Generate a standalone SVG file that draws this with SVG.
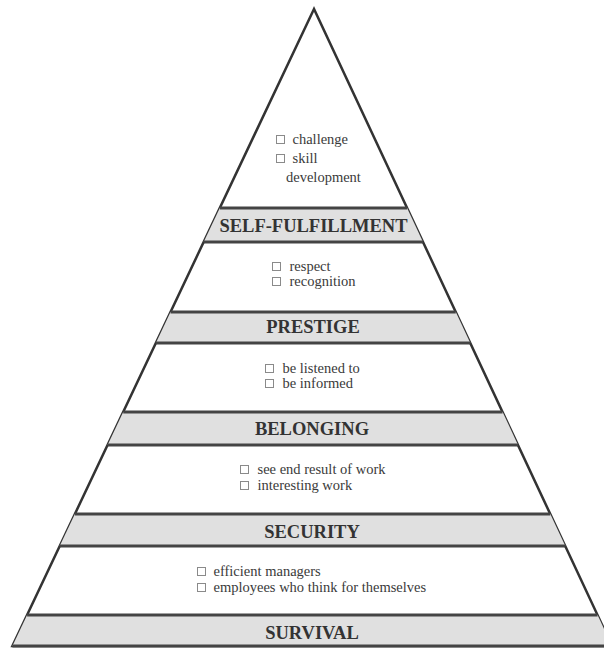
<svg xmlns="http://www.w3.org/2000/svg" width="604" height="648" viewBox="0 0 604 648">
<style>
.band{fill:#e0e0e0;stroke:none}
.bline{stroke:#444;stroke-width:3;fill:none}
.label{font-family:'Liberation Serif',serif;font-weight:bold;font-size:18.5px;fill:#333;text-anchor:middle}
.item{font-family:'Liberation Serif',serif;font-size:14.5px;fill:#3a3a3a}
.box{fill:none;stroke:#8a8a8a;stroke-width:1}
</style>
<rect width="604" height="648" fill="#fff"/>
<g id="outline">
<polygon points="314,9 12.4,646 612,646" fill="#fff" stroke="#333" stroke-width="2.5" stroke-linejoin="miter"/>
</g>
<g id="self-fulfillment" font-family="Liberation Serif, serif">
<rect class="box" x="276.5" y="135.5" width="8" height="8"/>
<text class="item" x="292.5" y="144">challenge</text>
<rect class="box" x="276.5" y="154.5" width="8" height="8"/>
<text class="item" x="292.5" y="163">skill</text>
<text class="item" x="286" y="182">development</text>
<polygon class="band" points="219.8,208 407.1,208 423,242 203.7,242"/>
<line class="bline" x1="219.8" y1="208" x2="407.1" y2="208"/>
<line class="bline" x1="203.7" y1="242" x2="423" y2="242"/>
<text class="label" x="313.5" y="232">SELF-FULFILLMENT</text>
</g>
<g id="prestige" font-family="Liberation Serif, serif">
<rect class="box" x="272.5" y="262.5" width="8" height="8"/>
<text class="item" x="289.5" y="271">respect</text>
<rect class="box" x="272.5" y="277.5" width="8" height="8"/>
<text class="item" x="289.5" y="286">recognition</text>
<polygon class="band" points="170.5,312 455.8,312 470.3,343 155.9,343"/>
<line class="bline" x1="170.5" y1="312" x2="455.8" y2="312"/>
<line class="bline" x1="155.9" y1="343" x2="470.3" y2="343"/>
<text class="label" x="313" y="333">PRESTIGE</text>
</g>
<g id="belonging" font-family="Liberation Serif, serif">
<rect class="box" x="265.5" y="364.5" width="8" height="8"/>
<text class="item" x="282.5" y="372.5">be listened to</text>
<rect class="box" x="265.5" y="379.5" width="8" height="8"/>
<text class="item" x="282.5" y="387.5">be informed</text>
<polygon class="band" points="123.2,412 502.6,412 518,445 107.6,445"/>
<line class="bline" x1="123.2" y1="412" x2="502.6" y2="412"/>
<line class="bline" x1="107.6" y1="445" x2="518" y2="445"/>
<text class="label" x="312" y="435">BELONGING</text>
</g>
<g id="security" font-family="Liberation Serif, serif">
<rect class="box" x="240.5" y="465.5" width="8" height="8"/>
<text class="item" x="257.5" y="474">see end result of work</text>
<rect class="box" x="240.5" y="481.5" width="8" height="8"/>
<text class="item" x="257.5" y="490">interesting work</text>
<polygon class="band" points="74.9,514 550.3,514 565.3,546 59.7,546"/>
<line class="bline" x1="74.9" y1="514" x2="550.3" y2="514"/>
<line class="bline" x1="59.7" y1="546" x2="565.3" y2="546"/>
<text class="label" x="312" y="537.5">SECURITY</text>
</g>
<g id="survival" font-family="Liberation Serif, serif">
<rect class="box" x="197.5" y="567.5" width="8" height="8"/>
<text class="item" x="213.5" y="576">efficient managers</text>
<rect class="box" x="197.5" y="583.5" width="8" height="8"/>
<text class="item" x="213.5" y="592">employees who think for themselves</text>
<polygon class="band" points="27.1,615 597.6,615 612,646 12.4,646"/>
<line class="bline" x1="27.1" y1="615" x2="597.6" y2="615"/>
<line class="bline" x1="12.4" y1="646" x2="612" y2="646"/>
<text class="label" x="312" y="638.5">SURVIVAL</text>
</g>
<g id="connectors"/>
</svg>
